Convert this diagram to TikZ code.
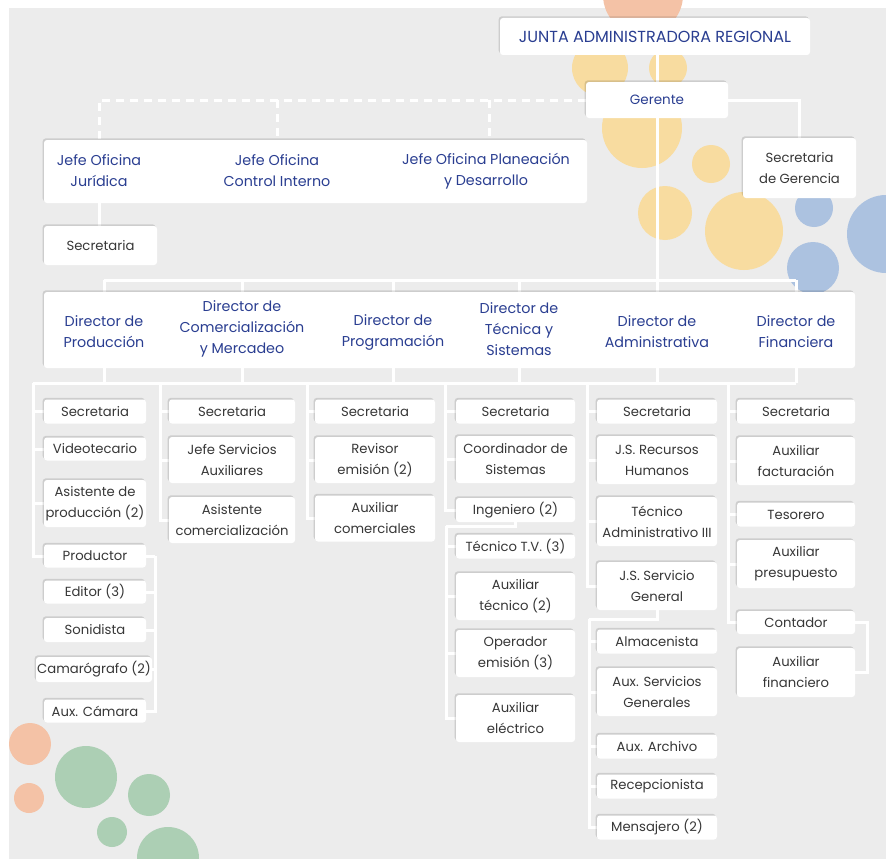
\documentclass[tikz,border=0pt]{standalone}
\usepackage{fontspec}
\setmainfont{Poppins}
\usetikzlibrary{shadows}
\pgfdeclarelayer{deco}
\pgfdeclarelayer{lines}
\pgfsetlayers{deco,lines,main}
\definecolor{bg}{RGB}{236,236,236}
\definecolor{ttl}{RGB}{42,62,145}
\definecolor{txt}{RGB}{55,55,55}
\definecolor{cyel}{RGB}{248,220,160}
\definecolor{cblu}{RGB}{172,194,224}
\definecolor{cora}{RGB}{244,194,166}
\definecolor{cgrn}{RGB}{172,207,180}
\newcommand\bx[6]{\node[box, minimum width=#4, minimum height=#5] (#1) at (#2,#3) {#6};}
\begin{document}
\begin{tikzpicture}[x=1pt,y=-1pt,
  box/.style={fill=white, rounded corners=3pt, inner sep=0pt, align=center, text=txt,
    font=\fontsize{13.2}{21}\selectfont,
    drop shadow={shadow xshift=-1.3pt, shadow yshift=1.6pt, fill=black, opacity=0.13}},
  ttext/.style={inner sep=0pt, align=center, text=ttl, font=\fontsize{14.3}{21}\selectfont},
  conn/.style={draw=white, line width=3pt},
  dconn/.style={conn, dash pattern=on 8pt off 6pt}
]
\useasboundingbox (0,0) rectangle (886,859);
\begin{pgfonlayer}{deco}
\fill[white] (0,0) rectangle (886,859);
\fill[bg] (9,8) rectangle (886,859);
\fill[cora] (643,-5) circle (40);
\fill[cyel] (600,68) circle (28);
\fill[cyel] (668,68) circle (19);
\fill[cyel] (642,128) circle (40);
\fill[cyel] (711,164) circle (19);
\fill[cyel] (665,213) circle (27);
\fill[cyel] (744,231) circle (39);
\fill[cblu] (814,208) circle (19);
\fill[cblu] (886,234) circle (39);
\fill[cblu] (813,268) circle (26);
\fill[cora] (30,744) circle (21);
\fill[cora] (29,798) circle (15);
\fill[cgrn] (86,777) circle (31);
\fill[cgrn] (149,795) circle (21);
\fill[cgrn] (112,832) circle (15);
\fill[cgrn] (168,858) circle (31);
\end{pgfonlayer}

% coordinates for connectors
\coordinate (dt1) at (104,280); \coordinate (dt2) at (242,280); \coordinate (dt3) at (393,280);
\coordinate (dt4) at (519,280); \coordinate (dt5) at (657,280); \coordinate (dt6) at (796,280);
\coordinate (db1) at (104,383); \coordinate (db2) at (242,383); \coordinate (db3) at (393,383);
\coordinate (db4) at (519,383); \coordinate (db5) at (657,383); \coordinate (db6) at (796,383);
\coordinate (c1) at (33,383); \coordinate (c2) at (160,383); \coordinate (c3) at (307,383);
\coordinate (c4) at (445,383); \coordinate (c5) at (587,383); \coordinate (c6) at (728,383);
\coordinate (j1) at (99,100); \coordinate (j2) at (277,100); \coordinate (j3) at (489,100);
\coordinate (pb) at (155,556);
\coordinate (i1) at (515.5,526); \coordinate (i2) at (446,526);
\coordinate (s1) at (657,619); \coordinate (s2) at (589,619);
\coordinate (fb) at (867,622.5);

% top nodes
\bx{junta}{655}{36.5}{310}{37}{\color{ttl}\fontsize{16}{21}\selectfont JUNTA ADMINISTRADORA REGIONAL}
\bx{ger}{657}{100}{142}{36}{\color{ttl}\fontsize{13.5}{21}\selectfont Gerente}
\bx{secger}{799.5}{168}{113}{60}{Secretaria\\de Gerencia}
\bx{jefes}{315.5}{171.5}{543}{63}{}
\node[ttext] (jf1) at (99,171) {Jefe Oficina\\Jurídica};
\node[ttext] (jf2) at (277,171) {Jefe Oficina\\Control Interno};
\node[ttext] (jf3) at (486,171) {Jefe Oficina Planeación\\y Desarrollo};
\bx{secj}{100.5}{245.5}{113}{39}{Secretaria}
\bx{dirs}{449.5}{330}{811}{76}{}
\node[ttext] (d1) at (104,332) {Director de\\Producción};
\node[ttext] (d2) at (242,329) {Director de\\Comercialización\\y Mercadeo};
\node[ttext] (d3) at (393,332) {Director de\\Programación};
\node[ttext] (d4) at (519,329) {Director de\\Técnica y\\Sistemas};
\node[ttext] (d5) at (657,332) {Director de\\Administrativa};
\node[ttext] (d6) at (796,332) {Director de\\Financiera};

% column 1
\bx{p1}{95}{411.5}{102}{24}{Secretaria}
\bx{p2}{95}{449}{102}{23}{Videotecario}
\bx{p3}{95}{503.5}{102}{47}{Asistente de\\producción (2)}
\bx{p4}{95}{556}{102}{23}{Productor}
\bx{p5}{95}{592}{102}{23}{Editor (3)}
\bx{p6}{95}{630}{102}{24}{Sonidista}
\bx{p7}{94}{669.5}{116}{25}{Camarógrafo (2)}
\bx{p8}{95}{711}{102}{23}{Aux. Cámara}
% column 2
\bx{m1}{232}{411.5}{126}{24}{Secretaria}
\bx{m2}{232}{460}{126}{46}{Jefe Servicios\\Auxiliares}
\bx{m3}{232}{520}{126}{46}{Asistente\\comercialización}
% column 3
\bx{g1}{375}{411.5}{120}{24}{Secretaria}
\bx{g2}{375}{460}{120}{46}{Revisor\\emisión (2)}
\bx{g3}{375}{518.5}{120}{46}{Auxiliar\\comerciales}
% column 4
\bx{t1}{515.5}{411.5}{119}{24}{Secretaria}
\bx{t2}{515.5}{459.5}{119}{47}{Coordinador de\\Sistemas}
\bx{t3}{515.5}{510}{119}{24}{Ingeniero (2)}
\bx{t4}{515.5}{546.5}{119}{24}{Técnico T.V. (3)}
\bx{t5}{515.5}{596.5}{119}{47}{Auxiliar\\técnico (2)}
\bx{t6}{515.5}{653.5}{119}{47}{Operador\\emisión (3)}
\bx{t7}{515.5}{718.5}{119}{47}{Auxiliar\\eléctrico}
% column 5
\bx{a1}{657}{411.5}{120}{24}{Secretaria}
\bx{a2}{657}{460}{120}{48}{J.S. Recursos\\Humanos}
\bx{a3}{657}{521.5}{120}{49}{Técnico\\Administrativo III}
\bx{a4}{657}{586}{120}{48}{J.S. Servicio\\General}
\bx{a5}{657}{641.5}{120}{24}{Almacenista}
\bx{a6}{657}{692}{120}{48}{Aux. Servicios\\Generales}
\bx{a7}{657}{746.5}{120}{24}{Aux. Archivo}
\bx{a8}{657}{786.5}{120}{24}{Recepcionista}
\bx{a9}{657}{827.5}{120}{24}{Mensajero (2)}
% column 6
\bx{f1}{796}{411.5}{118}{24}{Secretaria}
\bx{f2}{796}{461}{118}{48}{Auxiliar\\facturación}
\bx{f3}{796}{514.5}{118}{24}{Tesorero}
\bx{f4}{796}{564}{118}{48}{Auxiliar\\presupuesto}
\bx{f5}{796}{622.5}{118}{23}{Contador}
\bx{f6}{796}{672.5}{118}{49}{Auxiliar\\financiero}

\begin{pgfonlayer}{lines}
% top
\draw[conn] (junta.south -| ger.north) -- (ger.north);
\draw[conn] (ger.south) -- (dt5);
\draw[conn] (ger.east) -| (secger.north);
\draw[dconn] (ger.west) -- (j1) -- (jefes.north -| j1);
\draw[dconn] (j2) -- (jefes.north -| j2);
\draw[dconn] (j3) -- (jefes.north -| j3);
\draw[conn] (jefes.south -| jf1) -- (secj.north -| jf1);
% directors
\draw[conn] (dt1) -- (dt6);
\foreach \k in {1,...,6} {
  \draw[conn] (dt\k) -- (dirs.north -| dt\k);
  \draw[conn] (dirs.south -| db\k) -- (db\k);
}
\draw[conn] (c1) -- (db6);
% column 1
\foreach \n in {p1,p2,p3,p4} \draw[conn] (c1) |- (\n.west);
\draw[conn] (p4.east) -- (pb);
\foreach \n in {p5,p6,p7,p8} \draw[conn] (pb) |- (\n.east);
% column 2
\foreach \n in {m1,m2,m3} \draw[conn] (c2) |- (\n.west);
% column 3
\foreach \n in {g1,g2,g3} \draw[conn] (c3) |- (\n.west);
% column 4
\foreach \n in {t1,t2,t3} \draw[conn] (c4) |- (\n.west);
\draw[conn] (t3.south) -- (i1) -- (i2);
\foreach \n in {t4,t5,t6,t7} \draw[conn] (i2) |- (\n.west);
% column 5
\foreach \n in {a1,a2,a3,a4} \draw[conn] (c5) |- (\n.west);
\draw[conn] (a4.south) -- (s1) -- (s2);
\foreach \n in {a5,a6,a7,a8,a9} \draw[conn] (s2) |- (\n.west);
% column 6
\foreach \n in {f1,f2,f3,f4,f5} \draw[conn] (c6) |- (\n.west);
\draw[conn] (f5.east) -- (fb) |- (f6.east);
\end{pgfonlayer}
\end{tikzpicture}
\end{document}
